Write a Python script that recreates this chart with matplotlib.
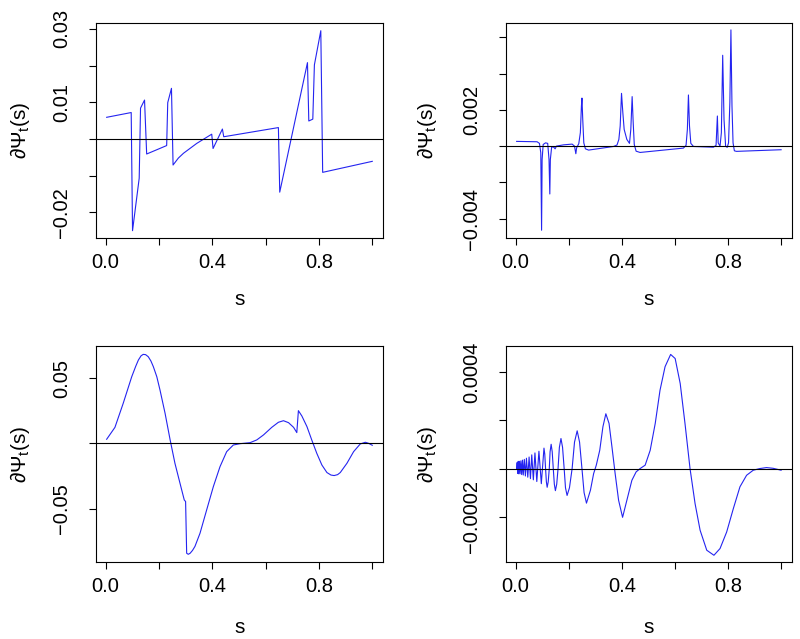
import matplotlib
matplotlib.use('Agg')
import matplotlib.pyplot as plt
import numpy as np

plt.rcParams['font.family'] = ['Liberation Sans', 'DejaVu Sans']
plt.rcParams['mathtext.fontset'] = 'custom'
plt.rcParams['mathtext.rm'] = 'Liberation Sans'
plt.rcParams['mathtext.it'] = 'Liberation Sans'
plt.rcParams['mathtext.default'] = 'regular'

# top-left: piecewise derivative (blocks-like)
s1 = [0.004, 0.096, 0.101, 0.126, 0.131, 0.146, 0.154, 0.190, 0.229, 0.233, 0.247, 0.253,
      0.273, 0.292, 0.342, 0.398, 0.403, 0.438, 0.443, 0.648, 0.653, 0.757, 0.762, 0.777,
      0.783, 0.807, 0.814, 1.0]
v1 = [0.0059, 0.0072, -0.0250, -0.0107, 0.0084, 0.0106, -0.0041, -0.0030, -0.0018, 0.0099,
      0.0138, -0.0071, -0.0052, -0.0039, -0.0012, 0.0013, -0.0026, 0.0027, 0.0006, 0.0031,
      -0.0145, 0.0208, 0.0049, 0.0054, 0.0202, 0.0295, -0.0091, -0.0061]

# top-right: spiky derivative (bumps-like), values in 1e-3
s2 = [0.004, 0.081, 0.090, 0.095, 0.098, 0.100, 0.104, 0.113, 0.121, 0.126, 0.129, 0.131,
      0.136, 0.144, 0.149, 0.154, 0.181, 0.213, 0.222, 0.227, 0.230, 0.238, 0.244, 0.248,
      0.250, 0.253, 0.257, 0.263, 0.275, 0.369, 0.382, 0.389, 0.394, 0.399, 0.404, 0.409,
      0.419, 0.429, 0.434, 0.439, 0.443, 0.447, 0.454, 0.469, 0.632, 0.642, 0.647, 0.651,
      0.655, 0.660, 0.670, 0.745, 0.755, 0.760, 0.763, 0.770, 0.775, 0.780, 0.785, 0.791,
      0.797, 0.802, 0.807, 0.811, 0.815, 0.819, 0.824, 0.832, 1.0]
v2 = [0.26, 0.24, 0.15, -0.37, -4.64, -0.74, 0.09, 0.18, 0.15, -0.74, -2.64, -0.74,
      -0.04, -0.06, -0.15, 0.0, 0.07, 0.11, 0.0, -0.42, -0.09, 0.13, 0.74, 2.21,
      2.65, 1.47, 0.18, -0.15, -0.22, -0.02, 0.06, 0.37, 1.11, 2.91, 1.84, 0.92,
      0.37, 0.15, 0.92, 2.73, 1.29, 0.09, -0.28, -0.35, -0.11, 0.04, 0.92, 2.82,
      1.11, 0.15, -0.02, -0.06, 0.04, 1.66, 0.18, 0.0, 0.74, 5.01, 1.47, 0.0,
      -0.07, 0.18, 2.40, 6.41, 2.21, 0.18, -0.26, -0.29, -0.20]

# bottom-left: smooth derivative (heavisine-like)
s3 = [0.004, 0.035, 0.066, 0.098, 0.113, 0.123, 0.133, 0.141, 0.150, 0.160, 0.170, 0.179,
      0.192, 0.204, 0.223, 0.242, 0.260, 0.279, 0.295, 0.300, 0.304, 0.310, 0.317, 0.326,
      0.335, 0.354, 0.379, 0.404, 0.429, 0.454, 0.479, 0.504, 0.542, 0.567, 0.592, 0.623,
      0.648, 0.667, 0.686, 0.705, 0.717, 0.723, 0.736, 0.755, 0.773, 0.792, 0.811, 0.830,
      0.845, 0.857, 0.870, 0.880, 0.905, 0.930, 0.955, 0.974, 0.986, 1.0]
v3 = [0.0031, 0.0122, 0.0306, 0.0510, 0.0590, 0.0638, 0.0670, 0.0681, 0.0679, 0.0663,
      0.0630, 0.0587, 0.0510, 0.0408, 0.0230, 0.0026, -0.0153, -0.0306, -0.0434, -0.0446,
      -0.0842, -0.0850, -0.0842, -0.0820, -0.0790, -0.0689, -0.0510, -0.0332, -0.0179,
      -0.0064, -0.0013, -0.0003, 0.0005, 0.0026, 0.0064, 0.0122, 0.0161, 0.0173, 0.0158,
      0.0122, 0.0082, 0.0250, 0.0209, 0.0128, 0.0026, -0.0077, -0.0166, -0.0224, -0.0243,
      -0.0247, -0.0240, -0.0224, -0.0153, -0.0064, -0.0005, 0.0008, 0.0, -0.0015]

# bottom-right: oscillating derivative (doppler-like), values in 1e-4
s4 = [0.004, 0.006, 0.008, 0.010, 0.012, 0.0145, 0.017, 0.020, 0.023, 0.026, 0.029, 0.033,
      0.037, 0.041, 0.046, 0.051, 0.056, 0.061, 0.067, 0.073, 0.080, 0.088, 0.097, 0.107,
      0.110, 0.113, 0.116, 0.119, 0.123, 0.127, 0.130, 0.134, 0.138, 0.142, 0.146, 0.150,
      0.155, 0.160, 0.165, 0.171, 0.177, 0.183, 0.188, 0.194, 0.203, 0.213, 0.222, 0.232,
      0.241, 0.250, 0.258, 0.267, 0.282, 0.294, 0.304, 0.317, 0.329, 0.340, 0.352, 0.363,
      0.375, 0.388, 0.403, 0.438, 0.454, 0.469, 0.488, 0.507, 0.526, 0.544, 0.563, 0.584,
      0.601, 0.620, 0.638, 0.657, 0.676, 0.695, 0.720, 0.747, 0.770, 0.795, 0.820, 0.845,
      0.870, 0.895, 0.920, 0.945, 0.970, 1.0]
v4 = [0.0, 0.25, -0.2, 0.3, -0.22, 0.3, -0.22, 0.32, -0.25, 0.35, -0.27, 0.38,
      -0.31, 0.43, -0.36, 0.48, -0.42, 0.57, -0.47, 0.65, -0.54, 0.72, -0.63, 0.85,
      0.6, 0.0, -0.55, -0.78, -0.55, 0.0, 0.7, 1.01, 0.7, 0.0, -0.65, -0.92,
      -0.65, 0.0, 0.88, 1.25, 0.88, 0.0, -0.8, -1.12, -0.8, 0.0, 1.1, 1.57,
      1.1, 0.0, -1.0, -1.44, -0.9, -0.21, 0.14, 0.76, 1.74, 2.28, 1.88, 0.90,
      -0.21, -1.32, -2.03, -0.49, -0.14, 0.0, 0.14, 0.76, 1.88, 3.26, 4.24, 4.75,
      4.58, 3.54, 1.88, 0.0, -1.46, -2.57, -3.40, -3.61, -3.33, -2.64, -1.67, -0.76,
      -0.28, -0.07, 0.0, 0.04, 0.01, -0.07]

x_ticks = [0.0, 0.2, 0.4, 0.6, 0.8, 1.0]
x_labels = ['0.0', '', '0.4', '', '0.8', '']

panels = [
    dict(s=s1, v=np.array(v1), rect=[0.120, 0.6275, 0.359, 0.3365], ylim=(-0.0270, 0.0316),
         yt=[-0.02, -0.01, 0.0, 0.01, 0.02, 0.03], yl=['\u22120.02', '', '', '0.01', '', '0.03'],
         ylx=-0.223, xly=-0.24),
    dict(s=s2, v=np.array(v2) * 1e-3, rect=[0.6325, 0.6275, 0.3575, 0.3365], ylim=(-0.00507, 0.00679),
         yt=[-0.004, -0.002, 0.0, 0.002, 0.004, 0.006], yl=['\u22120.004', '', '', '0.002', '', ''],
         ylx=-0.234, xly=-0.24),
    dict(s=s3, v=np.array(v3), rect=[0.120, 0.1205, 0.359, 0.338], ylim=(-0.0909, 0.0745),
         yt=[-0.05, 0.0, 0.05], yl=['\u22120.05', '', '0.05'],
         ylx=-0.223, xly=-0.26),
    dict(s=s4, v=np.array(v4) * 1e-4, rect=[0.6325, 0.1205, 0.3575, 0.338], ylim=(-0.000389, 0.00051),
         yt=[-0.0002, 0.0, 0.0002, 0.0004], yl=['\u22120.0002', '', '', '0.0004'],
         ylx=-0.234, xly=-0.26),
]

fig = plt.figure(figsize=(8.0, 6.39), dpi=100)

for p in panels:
    ax = fig.add_axes(p['rect'])
    ax.plot(p['s'], p['v'], color='#2424f0', lw=0.8)
    ax.axhline(0, color='black', lw=0.8)
    ax.set_xlim(-0.036, 1.041)
    ax.set_ylim(*p['ylim'])
    ax.set_xticks(x_ticks)
    ax.set_xticklabels(x_labels, fontsize=14.5)
    ax.set_yticks(p['yt'])
    ax.set_yticklabels(p['yl'], fontsize=14.5, rotation=90, va='center')
    ax.tick_params(axis='x', length=5, width=0.8, pad=6)
    ax.tick_params(axis='y', length=5, width=0.8, pad=13)
    for sp in ax.spines.values():
        sp.set_linewidth(0.8)
    ax.set_xlabel('s', fontsize=15)
    ax.xaxis.set_label_coords(0.5, p['xly'])
    ax.set_ylabel('\u2202\u03a8$_t$(s)', fontsize=15)
    ax.yaxis.set_label_coords(p['ylx'], 0.5)

fig.savefig('out.png', dpi=100)
